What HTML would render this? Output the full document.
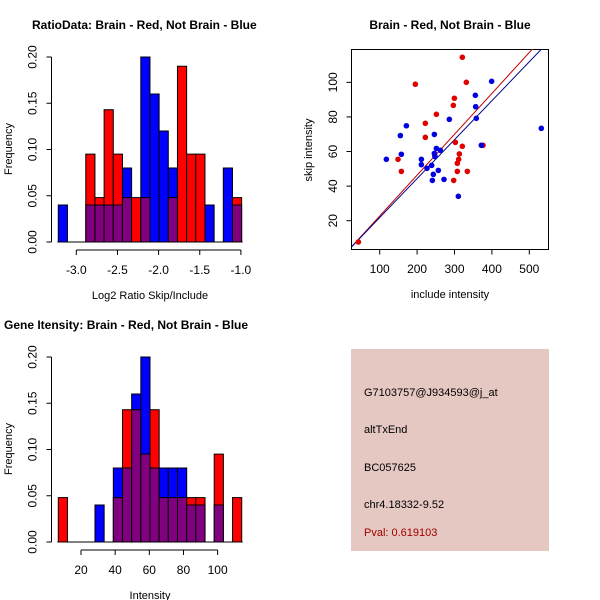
<!DOCTYPE html>
<html><head><meta charset="utf-8"><style>
html,body{margin:0;padding:0;background:#fff;}
svg{display:block;font-family:"Liberation Sans",Arial,sans-serif;}
</style></head><body>
<svg id="c" width="600" height="600" viewBox="0 0 600 600" xmlns="http://www.w3.org/2000/svg">
<defs><clipPath id="sc"><rect x="352" y="49" width="196" height="200"/></clipPath></defs>
<rect width="600" height="600" fill="#fff"/>
<g id="h1"></g>
<g id="sp"></g>
<g id="h2"></g>
<g>
<rect x="351" y="349" width="198" height="202" fill="#e6c8c2"/>
<g font-size="11" fill="#000">
<text x="364" y="396">G7103757@J934593@j_at</text>
<text x="364" y="433">altTxEnd</text>
<text x="364" y="471">BC057625</text>
<text x="364" y="508">chr4.18332-9.52</text>
<text x="364" y="536" fill="#a00000">Pval: 0.619103</text>
</g></g>
</svg>
<script>
// ---- Histogram 1 data ----
const h1Red  = [0,0,0,0.095,0.048,0.143,0.095,0.048,0.048,0.048,0,0,0.048,0.19,0.095,0.095,0,0,0,0.048];
const h1Blue = [0.04,0,0,0.04,0.04,0.04,0.04,0.08,0,0.2,0.16,0.12,0.08,0,0,0,0.04,0,0.08,0.04];
const h1XTicks = [-3.0,-2.5,-2.0,-1.5,-1.0];
const h1XLabels = ["-3.0","-2.5","-2.0","-1.5","-1.0"];
const h1BinStart = -3.219, h1BinWidth = 0.1114;
// ---- Histogram 2 data ----
const h2Red  = [0.048,0,0,0,0,0,0.048,0.143,0.143,0.095,0.143,0.048,0.048,0.048,0.048,0.048,0,0.095,0,0.048];
const h2Blue = [0,0,0,0,0.04,0,0.08,0.08,0.16,0.2,0.08,0.08,0.08,0.08,0.04,0.04,0,0.04,0,0];
const h2XTicks = [20,40,60,80,100];
const h2XLabels = ["20","40","60","80","100"];
const h2BinStart = 6.7, h2BinWidth = 5.37;
const yTicks = [0,0.05,0.10,0.15,0.20];
const yLabels = ["0.00","0.05","0.10","0.15","0.20"];
// ---- Scatter data ----
const blueX = [117.8,155.2,157.9,171.3,211.4,211.4,226.5,239,240.8,243.4,246.1,246.1,247.9,251.5,256.8,262.1,271.9,286.2,310.3,355.7,356.6,358.4,371.7,399.3,532.1];
const blueY = [55.5,69.2,58.4,74.9,55.5,52.4,50.3,52,43.3,46.8,69.9,58.9,57,61.8,49.1,60.7,43.9,78.6,34.1,92.5,85.9,79.2,63.6,100.6,73.4];
const redX = [43,149,157.9,195.3,222,222,251.5,247,297.8,296.9,299.6,302.3,307.6,307.6,311.1,312.9,320.9,320.9,331.6,334.3,376.2];
const redY = [7.7,55.5,48.5,98.9,76.3,68.2,81.5,58,43.3,86.7,90.8,65.3,48.5,53.2,55.5,58.6,63,114.5,100,48.5,63.6];
const redFit = [-0.96,0.2364];
const blueFit = [-0.67,0.2251];
const spXTicks = [100,200,300,400,500];
const spYTicks = [20,40,60,80,100];

const NS="http://www.w3.org/2000/svg";
function mk(parent,tag,attrs,text){const e=document.createElementNS(NS,tag);for(const k in attrs)e.setAttribute(k,attrs[k]);if(text!==undefined)e.textContent=text;parent.appendChild(e);return e;}

function hist(g,red,blue,bs,bw,xt,xl,x0px,x0v,pxPerUnit,top,title,xlab,titleX){
  const sx=v=>x0px+(v-x0v)*pxPerUnit;
  const y0=top+185, sy=v=>y0-v/0.2*185;
  for(let i=0;i<red.length;i++){
    const a=sx(bs+i*bw), b=sx(bs+(i+1)*bw);
    const hi=Math.max(red[i],blue[i]), lo=Math.min(red[i],blue[i]);
    if(hi>0){
      const c=red[i]>=blue[i]?"#ff0000":"#0000ff";
      const r=mk(g,"rect",{x:a,y:sy(hi),width:b-a,height:y0-sy(hi),fill:c,stroke:"#000","stroke-width":1});
      
      
    }
    if(lo>0){
      const r=mk(g,"rect",{x:a,y:sy(lo),width:b-a,height:y0-sy(lo),fill:"#800080",stroke:"#000","stroke-width":1});
      
      
    }
  }
  const x1=sx(bs),x2=sx(bs+red.length*bw);
  const base=mk(g,"line",{x1:x1-1,x2:x2+1,y1:y0,y2:y0,stroke:"#000"});
  
  
  const ax=51.5;
  const ya=mk(g,"line",{x1:ax,x2:ax,y1:sy(0.2),y2:y0,stroke:"#000"});
  
  
  yTicks.forEach((t,i)=>{
    mk(g,"line",{x1:ax-5,x2:ax,y1:sy(t),y2:sy(t),stroke:"#000"});
    const tx=mk(g,"text",{x:ax-15,y:sy(t),"font-size":12,"text-anchor":"middle",transform:`rotate(-90 ${ax-15} ${sy(t)})`},yLabels[i]);
    
    
  });
  const xa=y0+8;
  const xax=mk(g,"line",{x1:sx(xt[0]),x2:sx(xt[xt.length-1]),y1:xa,y2:xa,stroke:"#000"});
  
  
  xt.forEach((t,i)=>{
    mk(g,"line",{x1:sx(t),x2:sx(t),y1:xa,y2:xa+5,stroke:"#000"});
    const tx=mk(g,"text",{x:sx(t),y:xa+24,"font-size":12,"text-anchor":"middle"},xl[i]);
    
    
  });
  const tt=mk(g,"text",{x:titleX,y:top-28,"font-size":12,"font-weight":"bold"},title);
  
  
  const xlb=mk(g,"text",{x:150,y:y0+57,"font-size":11,"text-anchor":"middle"},xlab);
  
  
  const ylb=mk(g,"text",{x:12,y:top+92,"font-size":11,"text-anchor":"middle",transform:`rotate(-90 12 ${top+92})`},"Frequency");
  
  
}
hist(document.getElementById('h1'),h1Red,h1Blue,h1BinStart,h1BinWidth,h1XTicks,h1XLabels,76.3,-3,82.3,57,"RatioData: Brain - Red, Not Brain - Blue","Log2 Ratio Skip/Include",32);
hist(document.getElementById('h2'),h2Red,h2Blue,h2BinStart,h2BinWidth,h2XTicks,h2XLabels,81,20,1.708,357,"Gene Itensity: Brain - Red, Not Brain - Blue","Intensity",4);

(function(){
  const g=document.getElementById('sp');
  const sx=v=>379.7+(v-100)*0.374, sy=v=>220.7-(v-20)*1.7296;
  const box=mk(g,"rect",{x:351.5,y:49.5,width:197,height:200,fill:"none",stroke:"#000"});
  
  
  spXTicks.forEach(t=>{
    mk(g,"line",{x1:sx(t),x2:sx(t),y1:249.5,y2:254.5,stroke:"#000"});
    const tx=mk(g,"text",{x:sx(t),y:273,"font-size":12,"text-anchor":"middle"},String(t));
    
    
  });
  spYTicks.forEach(t=>{
    mk(g,"line",{x1:346.5,x2:351.5,y1:sy(t),y2:sy(t),stroke:"#000"});
    const tx=mk(g,"text",{x:337,y:sy(t),"font-size":12,"text-anchor":"middle",transform:`rotate(-90 337 ${sy(t)})`},String(t));
    
    
  });
  const cg=mk(g,"g",{"clip-path":"url(#sc)"});
  const line=(f,col,nm)=>{const l=mk(cg,"line",{x1:sx(0),y1:sy(f[0]),x2:sx(600),y2:sy(f[0]+f[1]*600),stroke:col,"stroke-width":1});
    
    };
  line(redFit,"#c00000","red-fit-line");
  line(blueFit,"#00008b","blue-fit-line");
  redX.forEach((x,i)=>{const c=mk(g,"circle",{cx:sx(x),cy:sy(redY[i]),r:2.8,fill:"#e00000"});
    
    });
  blueX.forEach((x,i)=>{const c=mk(g,"circle",{cx:sx(x),cy:sy(blueY[i]),r:2.8,fill:"#0000e0"});
    
    });
  const tt=mk(g,"text",{x:450,y:29,"font-size":12,"font-weight":"bold","text-anchor":"middle"},"Brain - Red, Not Brain - Blue");
  
  
  const xl=mk(g,"text",{x:450,y:298,"font-size":11,"text-anchor":"middle"},"include intensity");
  
  
  const yl=mk(g,"text",{x:312,y:150,"font-size":11,"text-anchor":"middle",transform:"rotate(-90 312 150)"},"skip intensity");
  
  
})();
</script>
</body></html>
